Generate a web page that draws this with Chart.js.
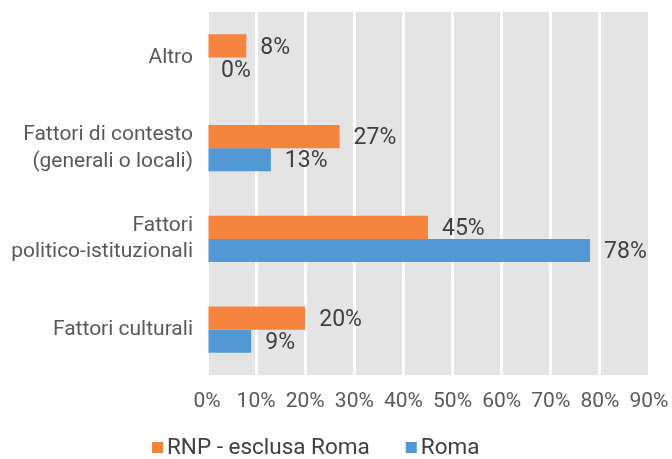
<!DOCTYPE html>
<html>
<head>
<meta charset="utf-8">
<script src="https://cdn.jsdelivr.net/npm/chart.js@4"></script>
<style>
  html, body { margin: 0; padding: 0; background: #fff; }
  #chart { display: block; }
</style>
</head>
<body>
<canvas id="chart" width="672" height="459"></canvas>
<script>
const categories = [
  "Altro",
  ["Fattori di contesto", "(generali o locali)"],
  ["Fattori", "politico-istituzionali"],
  "Fattori culturali",
];
const seriesNames = ["RNP - esclusa Roma", "Roma"];
const rnpValues = [8, 27, 45, 20];
const romaValues = [0, 13, 78, 9];
const xTicks = [0, 10, 20, 30, 40, 50, 60, 70, 80, 90];

const FONT = "Roboto, 'DejaVu Sans', sans-serif";

// sfondo grigio dell'area del grafico
const plotBackground = {
  id: "plotBackground",
  beforeDraw(chart) {
    const { ctx, chartArea: a } = chart;
    ctx.save();
    ctx.fillStyle = "#e4e4e4";
    ctx.fillRect(a.left, a.top, a.right - a.left, a.bottom - a.top);
    ctx.restore();
  },
};

// etichette dei valori a destra delle barre
const valueLabels = {
  id: "valueLabels",
  afterDatasetsDraw(chart) {
    const { ctx } = chart;
    ctx.save();
    ctx.font = "23px " + FONT;
    ctx.fillStyle = "#404040";
    ctx.textAlign = "left";
    ctx.textBaseline = "middle";
    chart.data.datasets.forEach((ds, i) => {
      chart.getDatasetMeta(i).data.forEach((bar, j) => {
        ctx.fillText(ds.data[j] + "%", bar.x + 14, bar.y + 2);
      });
    });
    ctx.restore();
  },
};

// legenda in basso (quadratino + testo vicino, come nell'originale)
const bottomLegend = {
  id: "bottomLegend",
  afterDraw(chart) {
    const { ctx } = chart;
    ctx.save();
    ctx.font = "22.5px " + FONT;
    ctx.textBaseline = "middle";
    const y = 447;
    let x = 152;
    chart.data.datasets.forEach((ds) => {
      ctx.fillStyle = ds.backgroundColor;
      ctx.fillRect(x, y - 5, 11, 11);
      x += 15;
      ctx.fillStyle = "#404040";
      ctx.fillText(ds.label, x, y + 1);
      x += ctx.measureText(ds.label).width + 36;
    });
    ctx.restore();
  },
};

new Chart(document.getElementById("chart"), {
  type: "bar",
  data: {
    labels: categories,
    datasets: [
      {
        label: seriesNames[0],
        data: rnpValues,
        backgroundColor: "#f4843e",
        borderWidth: 0,
      },
      {
        label: seriesNames[1],
        data: romaValues,
        backgroundColor: "#5198d4",
        borderWidth: 0,
      },
    ],
  },
  options: {
    indexAxis: "y",
    responsive: false,
    animation: false,
    devicePixelRatio: 1,
    categoryPercentage: 0.51,
    barPercentage: 1,
    layout: { padding: { top: 12, right: 23, left: 0, bottom: 44 } },
    plugins: {
      legend: { display: false },
      tooltip: { enabled: false },
    },
    scales: {
      x: {
        min: 0,
        max: 90,
        afterBuildTicks: (scale) => {
          scale.ticks = xTicks.map((v) => ({ value: v }));
        },
        afterFit: (scale) => {
          scale.height = 40;
          scale.paddingLeft = 0;
          scale.paddingRight = 0;
        },
        grid: { color: "#ffffff", lineWidth: 3, drawTicks: false },
        border: { display: false },
        ticks: {
          padding: 14,
          color: "#595959",
          font: { family: FONT, size: 21 },
          callback: (v) => v + "%",
        },
      },
      y: {
        afterFit: (scale) => {
          scale.width = 207;
          scale.paddingTop = 0;
          scale.paddingBottom = 0;
        },
        grid: { display: false },
        border: { display: false },
        ticks: {
          padding: 6,
          color: "#595959",
          font: { family: FONT, size: 21, lineHeight: 1.25 },
        },
      },
    },
  },
  plugins: [plotBackground, valueLabels, bottomLegend],
});
</script>
</body>
</html>
